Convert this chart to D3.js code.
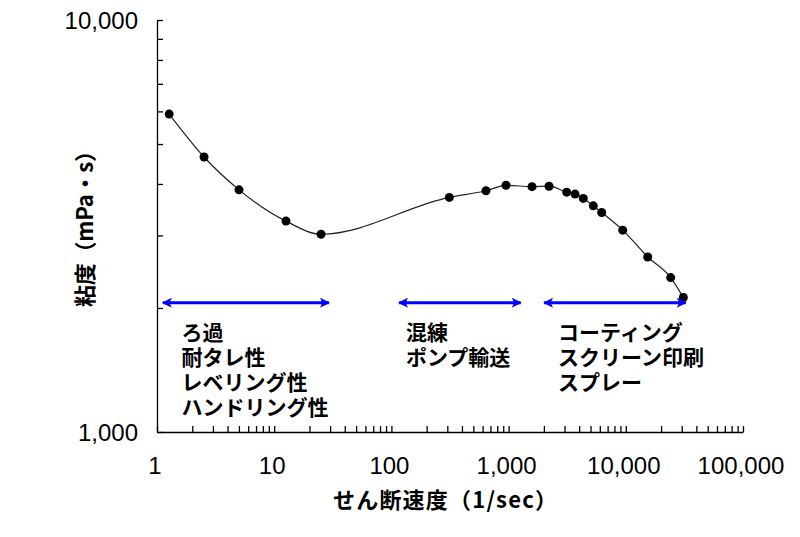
<!DOCTYPE html>
<html>
<head>
<meta charset="utf-8">
<script src="https://cdn.jsdelivr.net/npm/d3@7"></script>
<style>
  body { margin: 0; background: #fff; }
  .tick-label { font-family: "Liberation Sans", Arial, sans-serif; font-size: 24px; fill: #000; }
  .jp { font-family: "Noto Sans CJK JP", sans-serif; font-weight: bold; fill: #000; }
</style>
</head>
<body>
<div id="container"></div>
<script>
/* CONSTANTS AND GLOBALS */
const width = 800,
  height = 537,
  margin = { top: 20, left: 157, bottom: 105, right: 57 };

/* DATA */
// shear rate (1/sec) and viscosity (mPa·s)
const shearRate = [1.27, 2.52, 5.01, 12.6, 25.1, 312, 641, 950, 1585, 2213, 3133, 3689, 4338, 5280, 6226, 9412, 15380, 24150, 30960];
const viscosity = [5910, 4650, 3870, 3250, 3020, 3710, 3850, 3970, 3940, 3950, 3820, 3780, 3690, 3540, 3410, 3090, 2660, 2370, 2120];

const xTickValues = [1, 10, 100, 1000, 10000, 100000];
const xTickLabels = ["1", "10", "100", "1,000", "10,000", "100,000"];
const yTickValues = [1000, 10000];
const yTickLabels = ["1,000", "10,000"];

// application ranges (shear rate from/to) and their labels
const rangeFrom = [1.1, 114, 1970];
const rangeTo = [29.9, 1294, 33100];
const rangeLevel = 2060; // viscosity level where arrows are drawn
const labelAt = [1.62, 133, 2640];
const rangeLabels = [
  ["ろ過", "耐タレ性", "レベリング性", "ハンドリング性"],
  ["混練", "ポンプ輸送"],
  ["コーティング", "スクリーン印刷", "スプレー"]
];

const xTitle = "せん断速度（1/sec）";
const yTitle = "粘度（mPa・s）";

const data = shearRate.map((d, i) => ({ x: d, y: viscosity[i] }));

// SCALES
const xScale = d3.scaleLog()
  .domain([1, 100000])
  .range([margin.left, width - margin.right]);

const yScale = d3.scaleLog()
  .domain([1000, 10000])
  .range([height - margin.bottom, margin.top]);

// CREATE SVG ELEMENT
const svg = d3.select("#container")
  .append("svg")
  .attr("width", width)
  .attr("height", height);

// minor tick values (1..9 in each decade)
const minor = (lo, hi) => {
  const out = [];
  for (let p = lo; p < hi; p *= 10) for (let k = 1; k < 10; k++) out.push(p * k);
  out.push(hi);
  return out;
};

// X Axis - ticks point inward
const xAxis = d3.axisBottom(xScale)
  .tickValues(minor(1, 100000))
  .tickSizeInner(-6)
  .tickSizeOuter(0)
  .tickFormat("");
const gx = svg.append("g")
  .attr("transform", `translate(0,${height - margin.bottom})`)
  .call(xAxis);
gx.selectAll("path, line").attr("stroke", "#000").attr("stroke-width", 1.3);

svg.selectAll(".xlab")
  .data(xTickValues)
  .join("text")
  .attr("class", "tick-label")
  .attr("x", d => xScale(d) - 2)
  .attr("y", height - margin.bottom + 42)
  .attr("text-anchor", "middle")
  .text((d, i) => xTickLabels[i]);

// Y Axis - ticks point inward
const yAxis = d3.axisLeft(yScale)
  .tickValues(minor(1000, 10000))
  .tickSizeInner(-6)
  .tickSizeOuter(0)
  .tickFormat("");
const gy = svg.append("g")
  .attr("transform", `translate(${margin.left},0)`)
  .call(yAxis);
gy.selectAll("path, line").attr("stroke", "#000").attr("stroke-width", 1.3);

svg.selectAll(".ylab")
  .data(yTickValues)
  .join("text")
  .attr("class", "tick-label")
  .attr("x", margin.left - 19)
  .attr("y", d => yScale(d) + 9)
  .attr("text-anchor", "end")
  .text((d, i) => yTickLabels[i]);

// LINE
const lineGen = d3.line()
  .x(d => xScale(d.x))
  .y(d => yScale(d.y))
  .curve(d3.curveMonotoneX);

svg.append("path")
  .datum(data)
  .attr("d", lineGen)
  .attr("fill", "none")
  .attr("stroke", "#222")
  .attr("stroke-width", 1.2);

// POINTS
svg.selectAll(".pt")
  .data(data)
  .join("circle")
  .attr("cx", d => xScale(d.x))
  .attr("cy", d => yScale(d.y))
  .attr("r", 4.5)
  .attr("fill", "#000");

// ARROWS
const defs = svg.append("defs");
defs.append("marker")
  .attr("id", "head")
  .attr("viewBox", "0 0 10 10")
  .attr("refX", 9)
  .attr("refY", 5)
  .attr("markerUnits", "userSpaceOnUse")
  .attr("markerWidth", 11)
  .attr("markerHeight", 10)
  .attr("orient", "auto-start-reverse")
  .append("path")
  .attr("d", "M0,0 L10,5 L0,10 L2.5,5 Z")
  .attr("fill", "#0000ff");

svg.selectAll(".arrow")
  .data(rangeFrom)
  .join("line")
  .attr("x1", d => xScale(d) + 1)
  .attr("x2", (d, i) => xScale(rangeTo[i]) - 1)
  .attr("y1", yScale(rangeLevel))
  .attr("y2", yScale(rangeLevel))
  .attr("stroke", "#0000ff")
  .attr("stroke-width", 3)
  .attr("marker-start", "url(#head)")
  .attr("marker-end", "url(#head)");

// RANGE LABELS - one text per line
rangeLabels.forEach((lines, i) => {
  svg.selectAll(`.lab${i}`)
    .data(lines)
    .join("text")
    .attr("class", `jp lab${i}`)
    .style("font-size", "21px")
    .attr("x", xScale(labelAt[i]))
    .attr("y", (d, j) => yScale(rangeLevel) + 37 + j * 25)
    .text(d => d);
});

// AXIS TITLES
svg.append("text")
  .attr("class", "jp")
  .style("font-size", "22px")
  .attr("x", 333)
  .attr("y", 508)
  .attr("textLength", 224)
  .attr("lengthAdjust", "spacing")
  .text(xTitle);

svg.append("text")
  .attr("class", "jp")
  .style("font-size", "22px")
  .attr("transform", "translate(93,307) rotate(-90)")
  .attr("textLength", 167)
  .attr("lengthAdjust", "spacing")
  .text(yTitle);
</script>
</body>
</html>
